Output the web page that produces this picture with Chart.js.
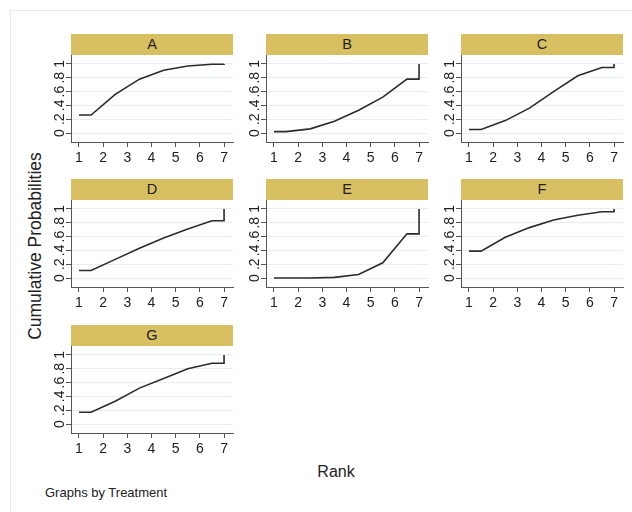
<!DOCTYPE html>
<html>
<head>
<meta charset="utf-8">
<script src="https://cdn.jsdelivr.net/npm/chart.js@4"></script>
<style>
  body { margin: 0; background: #fff; font-family: 'Liberation Sans', Arial, sans-serif; }
  #page { position: relative; width: 632px; height: 512px; overflow: hidden; }
  #frame { position: absolute; left: 10px; top: 10px; width: 640px; height: 520px; border: 1px solid #e4ecee; }
  .strip { position: absolute; height: 21px; background: #d8bf62; color: #222; font-size: 14.5px;
           text-align: center; line-height: 21px; }
  canvas.panel { position: absolute; }
  .lbl { position: absolute; color: #222; white-space: nowrap; }
</style>
</head>
<body>
<div id="page">
  <div id="frame"></div>
  <div class="lbl" style="left:35px; top:246px; font-size:17.5px; transform: translate(-50%,-50%) rotate(-90deg);">Cumulative Probabilities</div>
  <div class="lbl" style="left:336px; top:472px; font-size:16px; transform: translate(-50%,-50%);">Rank</div>
  <div class="lbl" style="left:45px; top:485px; font-size:13px;">Graphs by Treatment</div>
</div>
<script>
// cumulative probability of being ranked <= r, r = 1..7
const treatments = ['A', 'B', 'C', 'D', 'E', 'F', 'G'];
const cumA = [0.26, 0.56, 0.78, 0.91, 0.97, 0.995, 1];
const cumB = [0.02, 0.06, 0.17, 0.33, 0.52, 0.78, 1];
const cumC = [0.05, 0.18, 0.36, 0.60, 0.83, 0.95, 1];
const cumD = [0.11, 0.27, 0.43, 0.58, 0.71, 0.83, 1];
const cumE = [0.00, 0.00, 0.01, 0.05, 0.22, 0.64, 1];
const cumF = [0.39, 0.59, 0.73, 0.84, 0.91, 0.96, 1];
const cumG = [0.17, 0.33, 0.52, 0.66, 0.80, 0.88, 1];
const series = [cumA, cumB, cumC, cumD, cumE, cumF, cumG];
const ranks = [1, 2, 3, 4, 5, 6, 7];
const yTicks = [0, 0.2, 0.4, 0.6, 0.8, 1];

// panel grid (axis-line positions in page pixels)
const colLeft = [71, 266, 461];
const rowTop = [34, 179, 325];
const plotW = 162, stripH = 21, plotH = 87;
const yAxisW = 40, xAxisH = 30, padR = 6;

Chart.defaults.font.family = "'Liberation Sans', Arial, sans-serif";
Chart.defaults.color = '#222';

// Stata-style sucra step: flat to 1.5, joins at r+0.5, flat to 7, jump to 1
function sucraPoints(cum) {
    const pts = [{ x: ranks[0], y: cum[0] }];
    for (let i = 0; i < ranks.length - 1; i++) pts.push({ x: ranks[i] + 0.5, y: cum[i] });
    pts.push({ x: ranks[ranks.length - 1], y: cum[cum.length - 2] });
    pts.push({ x: ranks[ranks.length - 1], y: cum[cum.length - 1] });
    return pts;
}

function fmtProb(v) {
    const r = Math.round(v * 10) / 10;
    return r === 0 ? '0' : r === 1 ? '1' : String(r).replace('0.', '.');
}

// vertical y tick labels, centred on each tick (reads bottom to top)
const rotatedYLabels = {
    id: 'rotatedYLabels',
    afterDraw(chart) {
        const y = chart.scales.y, c = chart.ctx;
        c.save();
        c.font = "14px 'Liberation Sans', Arial, sans-serif";
        c.fillStyle = '#222';
        c.textAlign = 'center';
        c.textBaseline = 'middle';
        y.ticks.forEach(t => {
            c.save();
            c.translate(y.right - 11, y.getPixelForValue(t.value));
            c.rotate(-Math.PI / 2);
            c.fillText(fmtProb(t.value), 0, 0);
            c.restore();
        });
        c.restore();
    }
};

const page = document.getElementById('page');

treatments.forEach((name, i) => {
    const L = colLeft[i % 3];
    const T = rowTop[Math.floor(i / 3)];

    const strip = document.createElement('div');
    strip.className = 'strip';
    strip.style.left = L + 'px';
    strip.style.top = T + 'px';
    strip.style.width = plotW + 'px';
    strip.textContent = name;
    page.appendChild(strip);

    const cv = document.createElement('canvas');
    cv.className = 'panel';
    const w = yAxisW + plotW + padR, h = plotH + xAxisH;
    cv.width = w; cv.height = h;
    cv.style.width = w + 'px'; cv.style.height = h + 'px';
    cv.style.left = (L - yAxisW) + 'px';
    cv.style.top = (T + stripH) + 'px';
    page.appendChild(cv);

    new Chart(cv, {
        type: 'line',
        data: {
            datasets: [{
                data: sucraPoints(series[i]),
                borderColor: '#2b2b2b',
                borderWidth: 1.6,
                pointRadius: 0,
                tension: 0,
                fill: false
            }]
        },
        options: {
            responsive: false,
            animation: false,
            layout: { padding: { top: 0, right: padR, bottom: 0, left: 0 } },
            plugins: { legend: { display: false }, tooltip: { enabled: false } },
            scales: {
                x: {
                    type: 'linear', min: 0.67, max: 7.37,
                    afterBuildTicks: s => { s.ticks = ranks.map(v => ({ value: v })); },
                    afterFit: s => { s.height = xAxisH; },
                    grid: { drawOnChartArea: false, tickLength: 5, tickColor: '#555' },
                    border: { color: '#555', width: 1 },
                    ticks: { font: { size: 14 }, color: '#222', padding: 3, maxRotation: 0 }
                },
                y: {
                    min: -0.13, max: 1.13,
                    afterBuildTicks: s => { s.ticks = yTicks.map(v => ({ value: v })); },
                    afterFit: s => { s.width = yAxisW; },
                    grid: { color: '#e6eef2', tickLength: 5, tickColor: '#555' },
                    border: { color: '#555', width: 1 },
                    ticks: { display: false }
                }
            }
        },
        plugins: [rotatedYLabels]
    });
});
</script>
</body>
</html>
